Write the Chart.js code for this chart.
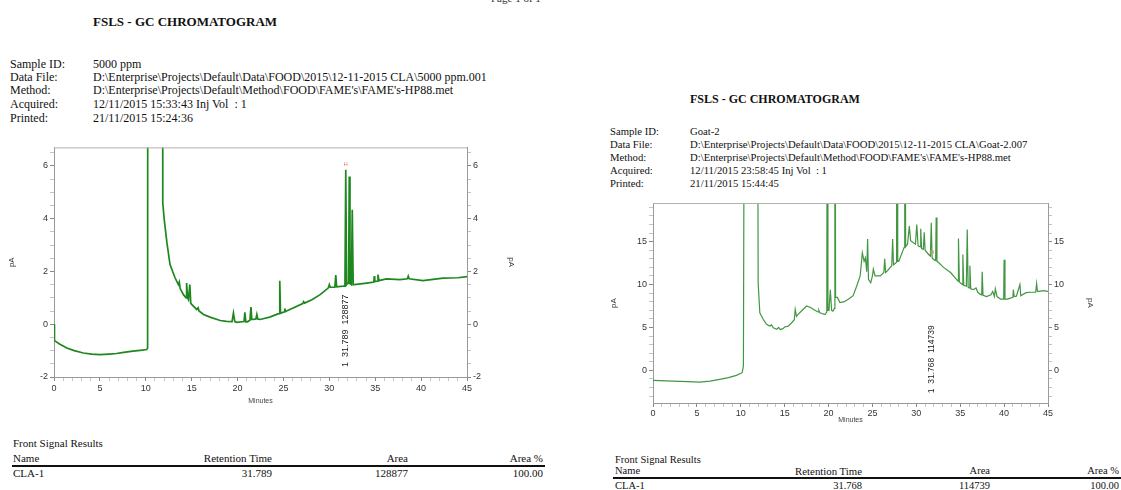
<!DOCTYPE html>
<html>
<head>
<meta charset="utf-8">
<title>FSLS - GC CHROMATOGRAM</title>
<script src="https://cdn.jsdelivr.net/npm/chart.js@4.4.1/dist/chart.umd.min.js"></script>
<style>
body { margin: 0; width: 1121px; height: 490px; background: #fff; position: relative; overflow: hidden;
       font-family: "Liberation Serif", "Times New Roman", serif; color: #111; }
.t { position: absolute; white-space: nowrap; line-height: 1.2; }
.b { font-weight: bold; }
.rule { position: absolute; height: 2px; background: #111; }
canvas { position: absolute; }
</style>
</head>
<body>

<!-- left report -->
<div class="t" style="left:491px;top:-8px;font-size:11px;color:#333">Page 1 of 1</div>
<div class="t b" style="left:93px;top:14px;font-size:13px">FSLS - GC CHROMATOGRAM</div>
<div class="t" style="left:10px;top:57px;font-size:12px">Sample ID:</div>
<div class="t" style="left:93px;top:57px;font-size:12px">5000 ppm</div>
<div class="t" style="left:10px;top:70px;font-size:12px">Data File:</div>
<div class="t" style="left:93px;top:70px;font-size:12px">D:\Enterprise\Projects\Default\Data\FOOD\2015\12-11-2015 CLA\5000 ppm.001</div>
<div class="t" style="left:10px;top:83px;font-size:12px">Method:</div>
<div class="t" style="left:93px;top:83px;font-size:12px">D:\Enterprise\Projects\Default\Method\FOOD\FAME's\FAME's-HP88.met</div>
<div class="t" style="left:10px;top:97px;font-size:12px">Acquired:</div>
<div class="t" style="left:93px;top:97px;font-size:12px">12/11/2015 15:33:43 Inj Vol&nbsp; : 1</div>
<div class="t" style="left:10px;top:111px;font-size:12px">Printed:</div>
<div class="t" style="left:93px;top:111px;font-size:12px">21/11/2015 15:24:36</div>

<canvas id="leftChart" width="530" height="270" style="left:0;top:140px"></canvas>

<div class="t" style="left:13px;top:437px;font-size:11px">Front Signal Results</div>
<div class="t" style="left:13px;top:452px;font-size:11px">Name</div>
<div class="t" style="right:849px;top:452px;font-size:11px">Retention Time</div>
<div class="t" style="right:713px;top:452px;font-size:11px">Area</div>
<div class="t" style="right:578px;top:452px;font-size:11px">Area %</div>
<div class="rule" style="left:12px;top:465px;width:533px"></div>
<div class="t" style="left:13px;top:467px;font-size:11px">CLA-1</div>
<div class="t" style="right:849px;top:467px;font-size:11px">31.789</div>
<div class="t" style="right:713px;top:467px;font-size:11px">128877</div>
<div class="t" style="right:578px;top:467px;font-size:11px">100.00</div>

<!-- right report -->
<div class="t b" style="left:690px;top:92px;font-size:12px">FSLS - GC CHROMATOGRAM</div>
<div class="t" style="left:610px;top:124.5px;font-size:10.7px">Sample ID:</div>
<div class="t" style="left:690px;top:124.5px;font-size:10.7px">Goat-2</div>
<div class="t" style="left:610px;top:138px;font-size:10.7px">Data File:</div>
<div class="t" style="left:690px;top:138px;font-size:10.7px">D:\Enterprise\Projects\Default\Data\FOOD\2015\12-11-2015 CLA\Goat-2.007</div>
<div class="t" style="left:610px;top:150.5px;font-size:10.7px">Method:</div>
<div class="t" style="left:690px;top:150.5px;font-size:10.7px">D:\Enterprise\Projects\Default\Method\FOOD\FAME's\FAME's-HP88.met</div>
<div class="t" style="left:610px;top:163.5px;font-size:10.7px">Acquired:</div>
<div class="t" style="left:690px;top:163.5px;font-size:10.7px">12/11/2015 23:58:45 Inj Vol&nbsp; : 1</div>
<div class="t" style="left:610px;top:176.5px;font-size:10.7px">Printed:</div>
<div class="t" style="left:690px;top:176.5px;font-size:10.7px">21/11/2015 15:44:45</div>

<canvas id="rightChart" width="521" height="235" style="left:600px;top:195px"></canvas>

<div class="t" style="left:615px;top:453.5px;font-size:10.5px">Front Signal Results</div>
<div class="t" style="left:615px;top:464.5px;font-size:10.5px">Name</div>
<div class="t" style="right:259px;top:464.5px;font-size:10.8px">Retention Time</div>
<div class="t" style="right:131px;top:464.5px;font-size:10.5px">Area</div>
<div class="t" style="right:2px;top:464.5px;font-size:10.5px">Area %</div>
<div class="rule" style="left:613px;top:477px;width:508px"></div>
<div class="t" style="left:615px;top:479.5px;font-size:10.5px">CLA-1</div>
<div class="t" style="right:259px;top:479.5px;font-size:10.5px">31.768</div>
<div class="t" style="right:131px;top:479.5px;font-size:10.5px">114739</div>
<div class="t" style="right:2px;top:479.5px;font-size:10.5px">100.00</div>

<script>
// ================= DATA =================
// 5000 ppm standard: retention time (min) and signal (pA)
const leftTime = [0, 0.05, 0.6, 1.4, 2.2, 3.2, 4.1, 5.0, 6.0, 6.8, 7.6, 8.6, 9.4, 10.1, 10.2, 10.25,
  11.8, 11.85, 12.0, 12.3, 12.64, 13.2, 13.55, 13.65, 13.75, 14.1, 14.4, 14.45, 14.55, 14.65, 14.8, 14.9,
  15.0, 15.55, 15.7, 15.8, 16.3, 17.0, 18.1, 18.8, 19.4, 19.55, 19.7, 19.9, 20.7, 20.8, 20.9, 21.07,
  21.35, 21.46, 21.55, 21.7, 22.0, 22.1, 22.2, 22.45, 23.5, 24.4, 24.55, 24.6, 24.68, 24.8, 25.1, 25.15,
  25.2, 25.7, 27.1, 27.2, 27.3, 28.1, 29.0, 29.9, 30.0, 30.1, 30.6, 30.7, 30.8, 31.5, 31.7, 31.79,
  31.88, 32.0, 32.1, 32.17, 32.25, 32.4, 32.5, 32.6, 32.7, 34.07, 34.85, 34.9, 34.95, 35.25, 35.3, 35.4,
  36.2, 37.7, 38.5, 38.6, 38.7, 40.2, 42.4, 44.0, 45];
const leftSignal = [0.0, -0.62, -0.75, -0.9, -1.0, -1.09, -1.13, -1.15, -1.13, -1.11, -1.07, -1.02, -0.99, -0.96, -0.9, 40,
  40, 4.6, 4.0, 3.1, 2.26, 1.75, 1.5, 1.6, 1.35, 1.12, 1.0, 1.56, 1.0, 0.93, 1.5, 0.8,
  0.75, 0.56, 0.62, 0.5, 0.37, 0.27, 0.14, 0.11, 0.1, 0.42, 0.1, 0.07, 0.1, 0.45, 0.09, 0.09,
  0.15, 0.65, 0.18, 0.18, 0.2, 0.37, 0.2, 0.18, 0.27, 0.39, 0.4, 1.65, 0.42, 0.43, 0.47, 0.6,
  0.48, 0.56, 0.78, 0.85, 0.8, 0.93, 1.12, 1.38, 1.5, 1.4, 1.4, 1.86, 1.42, 1.44, 1.45, 5.85,
  1.5, 1.56, 1.55, 5.6, 1.55, 1.5, 4.34, 1.5, 1.5, 1.56, 1.6, 1.82, 1.62, 1.63, 1.88, 1.65,
  1.72, 1.69, 1.72, 1.82, 1.72, 1.65, 1.75, 1.76, 1.8];

// Goat-2 sample
const rightTime = [0, 2.28, 4.0, 5.3, 6.5, 7.6, 8.6, 9.5, 10.16, 10.3, 10.46, 11.87, 11.98, 12.17, 12.55, 12.93,
  13.3, 13.5, 13.7, 14.1, 14.3, 14.5, 14.8, 15.0, 15.4, 15.8, 16.1, 16.2, 16.35, 16.5, 17.0, 17.5,
  18.0, 18.3, 18.8, 18.9, 19.0, 19.6, 19.8, 19.87, 19.93, 20.05, 20.2, 20.35, 20.5, 20.65, 20.72, 20.8,
  21.0, 21.3, 21.8, 22.25, 22.8, 23.2, 23.6, 23.85, 24.05, 24.2, 24.35, 24.45, 24.55, 24.8, 25.0, 25.1,
  25.3, 25.9, 26.3, 26.4, 26.5, 26.7, 27.2, 27.3, 27.4, 27.75, 27.8, 27.88, 28.0, 28.6, 28.68, 28.78,
  29.0, 29.2, 29.35, 29.9, 30.05, 30.2, 30.45, 30.5, 30.6, 30.8, 30.9, 31.0, 31.4, 31.6, 31.7, 31.8,
  32.0, 32.2, 32.26, 32.35, 32.5, 33.1, 33.9, 34.5, 34.75, 34.8, 34.9, 35.0, 35.25, 35.3, 35.4, 35.7,
  35.8, 35.9, 36.0, 36.1, 36.2, 36.5, 36.8, 37.0, 37.3, 37.45, 37.5, 37.6, 38.0, 38.5, 38.7, 38.9,
  39.0, 39.2, 39.6, 39.95, 40.0, 40.1, 40.4, 41.0, 41.05, 41.15, 41.4, 41.8, 41.9, 42.5, 43.0, 43.6,
  43.7, 43.8, 44.0, 44.5, 45];
const rightSignal = [-1.17, -1.24, -1.32, -1.36, -1.25, -1.05, -0.85, -0.58, -0.27, 0.5, 60, 60, 10.2, 6.7, 5.95, 5.36,
  5.16, 5.3, 4.95, 4.78, 5.0, 4.75, 4.86, 5.05, 5.16, 5.55, 5.9, 7.1, 6.3, 6.5, 7.0, 7.5,
  7.3, 7.1, 6.8, 7.0, 6.7, 6.5, 6.8, 60, 7.0, 7.0, 9.4, 7.0, 6.9, 7.2, 60, 8.5,
  8.5, 7.9, 8.0, 8.3, 8.7, 9.8, 11.0, 13.7, 12.7, 13.1, 11.5, 15.3, 10.6, 10.2, 11.0, 11.8,
  11.0, 11.0, 11.4, 13.0, 11.4, 11.6, 12.2, 15.3, 12.3, 12.6, 60, 12.7, 12.7, 14.3, 60, 14.4,
  14.7, 16.8, 15.1, 14.7, 17.0, 14.5, 14.4, 16.5, 14.2, 14.1, 16.1, 14.0, 13.5, 13.3, 17.2, 13.1,
  12.9, 12.8, 17.8, 12.7, 12.6, 12.0, 11.4, 10.7, 10.4, 15.35, 10.3, 10.2, 10.0, 13.5, 9.9, 9.8,
  16.4, 9.7, 9.6, 12.2, 9.5, 9.4, 9.6, 9.1, 8.85, 8.8, 11.5, 8.75, 8.6, 8.8, 9.2, 8.6,
  9.5, 8.6, 8.3, 8.3, 12.9, 8.3, 8.3, 8.5, 9.4, 8.6, 8.65, 10.0, 8.7, 9.05, 9.1, 9.1,
  10.1, 9.2, 9.2, 9.3, 9.2];

// integrated peaks (retention time, area)
const leftPeakRT = [31.789];
const leftPeakArea = [128877];
const rightPeakRT = [31.768];
const rightPeakArea = [114739];

// ================= HELPERS =================
const TICK_FONT = { family: '"Liberation Sans", Arial, sans-serif', size: 9 };
const AXIS_GREY = '#9a9a9a';

function isMajor(v, major) {
    return Math.abs(Math.round(v / major) * major - v) < 1e-6;
}

// frame top edge + peak labels ("1  rt  area", read bottom-up) with the red marker
function peakPlugin(rts, areas, times, values, labelValue, labelSize) {
    return {
        id: 'peakNotes',
        afterDatasetsDraw(chart) {
            const ctx = chart.ctx;
            const a = chart.chartArea;
            const xs = chart.scales.x, ys = chart.scales.y;
            ctx.save();
            ctx.strokeStyle = '#b0b0b0';
            ctx.lineWidth = 1;
            ctx.beginPath();
            ctx.moveTo(a.left, a.top + 0.5);
            ctx.lineTo(a.right, a.top + 0.5);
            ctx.stroke();
            ctx.restore();

            rts.forEach((rt, i) => {
                // nearest point of the trace gives the peak top
                let k = 0;
                times.forEach((t, j) => { if (Math.abs(t - rt) < Math.abs(times[k] - rt)) k = j; });
                const px = xs.getPixelForValue(rt);
                const top = ys.getPixelForValue(values[k]);

                ctx.save();
                ctx.fillStyle = '#ee7777';
                ctx.font = '6px "Liberation Sans"';
                ctx.textAlign = 'center';
                ctx.fillText('H', px, top - 4);
                ctx.restore();

                ctx.save();
                ctx.translate(px, ys.getPixelForValue(labelValue));
                ctx.rotate(-Math.PI / 2);
                ctx.fillStyle = '#222';
                ctx.font = labelSize + 'px "Liberation Sans"';
                ctx.textAlign = 'center';
                ctx.textBaseline = 'middle';
                ctx.fillText((i + 1) + '  ' + rt.toFixed(3) + '  ' + areas[i], 0, 0);
                ctx.restore();
            });
        }
    };
}

function yAxis(pos, cfg, width, titlePad) {
    return {
        type: 'linear',
        position: pos,
        min: cfg.min,
        max: cfg.max,
        ticks: {
            stepSize: cfg.minor,
            includeBounds: false,
            autoSkip: false,
            padding: 2,
            font: TICK_FONT,
            color: '#333',
            callback: v => isMajor(v, cfg.major) ? v : ''
        },
        grid: {
            drawOnChartArea: false,
            tickLength: 4,
            tickColor: c => (c.tick && isMajor(c.tick.value, cfg.major)) ? '#888' : '#c4c4c4'
        },
        border: { color: AXIS_GREY },
        title: { display: true, text: 'pA', font: { family: TICK_FONT.family, size: 8 }, color: '#333',
                 padding: { top: titlePad, bottom: 0 } },
        afterFit: s => { s.width = width; }
    };
}

function buildChart(id, times, values, cfg) {
    const points = times.map((t, i) => ({ x: t, y: values[i] }));
    return new Chart(document.getElementById(id), {
        type: 'line',
        data: {
            datasets: [{
                data: points,
                borderColor: cfg.color,
                borderWidth: cfg.lineWidth,
                pointRadius: 0,
                tension: 0,
                fill: false
            }]
        },
        options: {
            responsive: false,
            animation: false,
            layout: { padding: { top: cfg.padTop, left: 0, right: 0, bottom: 0 } },
            plugins: { legend: { display: false }, tooltip: { enabled: false } },
            scales: {
                x: {
                    type: 'linear',
                    min: 0,
                    max: 45,
                    ticks: {
                        stepSize: 1,
                        autoSkip: false,
                        maxRotation: 0,
                        padding: cfg.xTickPad,
                        font: TICK_FONT,
                        color: '#333',
                        callback: v => v % 5 === 0 ? v : ''
                    },
                    grid: {
                        drawOnChartArea: false,
                        tickLength: 4,
                        tickColor: c => (c.tick && c.tick.value % 5 === 0) ? '#888' : '#c4c4c4'
                    },
                    border: { color: AXIS_GREY },
                    title: { display: true, text: 'Minutes', font: { family: TICK_FONT.family, size: 7 }, color: '#444',
                             padding: { top: 0, bottom: cfg.minutesPad } },
                    afterFit: s => { s.height = cfg.xHeight; }
                },
                y: yAxis('left', cfg, cfg.leftWidth, cfg.leftTitlePad),
                y2: yAxis('right', cfg, cfg.rightWidth, cfg.rightTitlePad)
            }
        },
        plugins: [peakPlugin(cfg.rt, cfg.area, times, values, cfg.labelValue, cfg.labelSize)]
    });
}

// ================= CHARTS =================
buildChart('leftChart', leftTime, leftSignal, {
    min: -2, max: 6.7, minor: 0.5, major: 2,
    color: 'rgb(30,135,30)', lineWidth: 1.7,
    padTop: 6, xHeight: 33, leftWidth: 54, rightWidth: 63,
    leftTitlePad: 7, rightTitlePad: 14, minutesPad: 5, xTickPad: 2,
    rt: leftPeakRT, area: leftPeakArea, labelValue: -0.25, labelSize: 9
});

buildChart('rightChart', rightTime, rightSignal, {
    min: -3.8, max: 19.5, minor: 1, major: 5,
    color: 'rgb(66,150,66)', lineWidth: 1.2,
    padTop: 8, xHeight: 27, leftWidth: 53, rightWidth: 73,
    leftTitlePad: 9, rightTitlePad: 26, minutesPad: 6, xTickPad: 1,
    rt: rightPeakRT, area: rightPeakArea, labelValue: 1.3, labelSize: 8.5
});
</script>
</body>
</html>
